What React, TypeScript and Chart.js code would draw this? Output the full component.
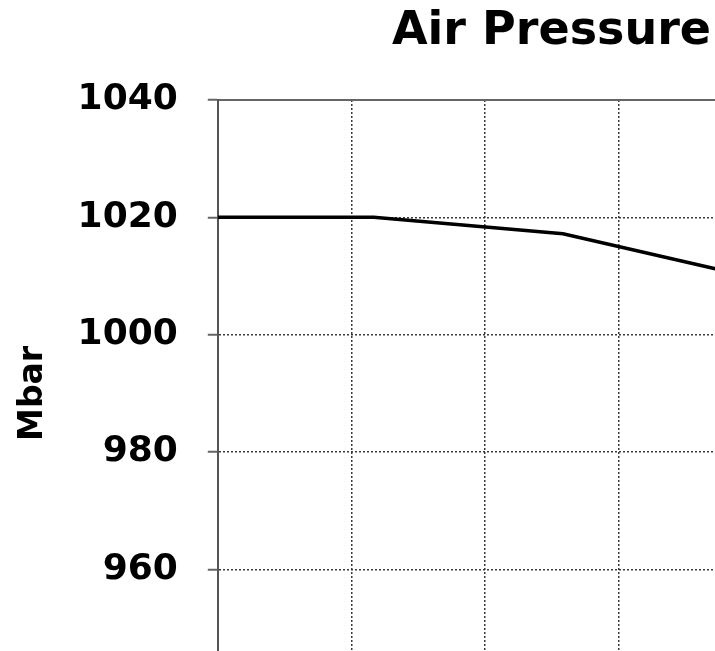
import React, { useEffect, useRef } from "react";
import { Chart, registerables } from "chart.js";

Chart.register(...registerables);

const chartTitle = "Air Pressure";
const yAxisTitle = "Mbar";
const timeHours = [0, 7, 15.5, 24];
const pressureMbar = [1020, 1020, 1017.2, 1009.8];
const yMin = 940;
const yMax = 1040;
const yStep = 20;
const xMin = 0;
const xMax = 39.3;
const xStep = 6;

const FONT = "'DejaVu Sans', Verdana, sans-serif";
const CANVAS_W = 1103;
const CANVAS_H = 760;

export default function App() {
  const ref = useRef<HTMLCanvasElement | null>(null);

  useEffect(() => {
    if (!ref.current) return;
    const points = timeHours.map((t, i) => ({ x: t, y: pressureMbar[i] }));
    const chart = new Chart(ref.current, {
      type: "line",
      data: {
        datasets: [
          {
            label: chartTitle,
            data: points,
            borderColor: "#000000",
            borderWidth: 3.5,
            pointRadius: 0,
            tension: 0,
            fill: false,
            xAxisID: "x",
            yAxisID: "y",
          },
        ],
      },
      options: {
        responsive: false,
        animation: false,
        layout: { padding: 0 },
        plugins: {
          legend: { display: false },
          tooltip: { enabled: false },
          title: {
            display: true,
            text: chartTitle,
            color: "#000000",
            font: { family: FONT, size: 46, weight: "bold" },
            padding: { top: 4, bottom: 40.8 },
          },
        },
        scales: {
          x: {
            type: "linear",
            position: "bottom",
            min: xMin,
            max: xMax,
            grid: {
              color: "#3a3a3a",
              lineWidth: 1.5,
              tickLength: 10,
              tickColor: "#666666",
              tickWidth: 2,
            },
            border: { display: true, color: "#555555", width: 2, dash: [2, 2] },
            ticks: {
              stepSize: xStep,
              color: "#000000",
              font: { family: FONT, size: 36, weight: "bold" },
              padding: 10,
              maxRotation: 0,
              callback: (v: any) => (Number(v) % xStep === 0 ? String(v) : ""),
            },
          },
          x2: {
            type: "linear",
            position: "top",
            min: xMin,
            max: xMax,
            grid: { display: false, drawTicks: false },
            border: { display: true, color: "#666666", width: 2 },
            ticks: { display: false },
          },
          y: {
            type: "linear",
            position: "left",
            min: yMin,
            max: yMax,
            grid: {
              color: "#3a3a3a",
              lineWidth: 1.5,
              tickLength: 10,
              tickColor: "#666666",
              tickWidth: 2,
            },
            border: { display: true, color: "#555555", width: 2, dash: [2, 2] },
            ticks: {
              stepSize: yStep,
              color: "#000000",
              font: { family: FONT, size: 36, weight: "bold" },
              padding: 30,
              callback: (v: any) => String(v),
            },
            title: {
              display: true,
              text: yAxisTitle,
              color: "#000000",
              font: { family: FONT, size: 33, weight: "bold" },
              padding: { top: 14, bottom: -6 },
            },
          },
        },
      },
    });
    return () => chart.destroy();
  }, []);

  return (
    <div
      style={{
        position: "fixed",
        left: 0,
        top: 0,
        width: 715,
        height: 651,
        overflow: "hidden",
        background: "#ffffff",
      }}
    >
      <canvas
        ref={ref}
        width={CANVAS_W}
        height={CANVAS_H}
        style={{ display: "block", width: CANVAS_W, height: CANVAS_H }}
      />
    </div>
  );
}
